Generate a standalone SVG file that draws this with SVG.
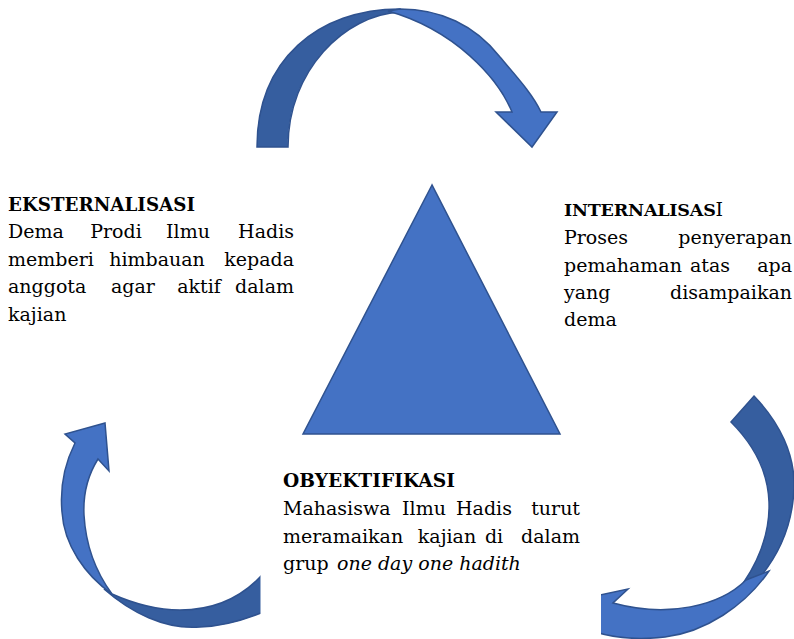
<svg xmlns="http://www.w3.org/2000/svg" width="794" height="639" viewBox="0 0 794 639">
<style>
.light{fill:#4472C4;stroke:#2F528F;stroke-width:1.5;stroke-linejoin:miter}
.dark{fill:#365E9F;stroke:#2F528F;stroke-width:1.5}
text{font-family:"DejaVu Serif","Liberation Serif",serif;font-size:19px;fill:#000}
.t{font-weight:bold}
.m{text-anchor:middle}
.e{text-anchor:end}
.i{font-style:italic}
</style>
<rect width="794" height="639" fill="#fff"/>
<g id="connectors">
<g id="arrow-top">
<path class="dark" d="M257,147 C257,60 318,9 400,9 L400,12 C345,15 288,70 288,147 Z"/>
<path class="light" d="M400,9 C440,9 475,25 500,57 C515,75 532,93 541,112 L557,112 L532,147 L496,112 L512,112 C498,78 455,30 388,11 Z"/>
</g>
<g id="arrow-right">
<path class="dark" d="M754,396 C780,423 795,455 794,487 C793,522 782,553 755,583 L744,582 C760,558 770,530 769,502 C768,472 755,446 731,422 Z"/>
<path class="light" d="M746,580 C720,606 668,618 613,603 L628,589 L595,596 L595,632 C615,638 640,640 665,637 C705,632 745,606 769,571 Z"/>
</g>
<g id="arrow-left">
<path class="dark" d="M104,589 C130,612 165,630 200,627 C225,626 245,620 268,610 L268,568 C245,597 215,610 180,610 C155,610 130,602 112,594 Z"/>
<path class="light" d="M98,459 L109,471 L105,423 L65,434 L75,443 C64,465 60,490 62,512 C64,545 85,575 112,594 C98,575 86,550 84,515 C83,495 88,475 98,459 Z"/>
</g>
</g>
<g id="triangle">
<polygon class="light" points="432,185 303,434 560,434"/>
</g>
<rect x="260.5" y="455" width="340.5" height="184" fill="#fff"/>
<g id="eksternalisasi">
<text class="t" x="8" y="211" textLength="187" lengthAdjust="spacingAndGlyphs">EKSTERNALISASI</text>
<text y="238"><tspan x="8">Dema</tspan><tspan class="m" x="116">Prodi</tspan><tspan class="m" x="188">Ilmu</tspan><tspan class="e" x="294">Hadis</tspan></text>
<text y="266"><tspan x="8">memberi</tspan><tspan class="m" x="157">himbauan</tspan><tspan class="e" x="294">kepada</tspan></text>
<text y="293"><tspan x="8">anggota</tspan><tspan class="m" x="133">agar</tspan><tspan class="m" x="199">aktif</tspan><tspan class="e" x="294">dalam</tspan></text>
<text x="8" y="321">kajian</text>
</g>
<g id="internalisasi">
<text x="564" y="216"><tspan class="t" style="font-size:17.5px;letter-spacing:-0.2px">INTERNALISAS</tspan><tspan>I</tspan></text>
<text y="244"><tspan x="564">Proses</tspan><tspan class="e" x="792">penyerapan</tspan></text>
<text y="272"><tspan x="564">pemahaman</tspan><tspan class="m" x="710">atas</tspan><tspan class="e" x="792">apa</tspan></text>
<text y="299"><tspan x="564">yang</tspan><tspan class="e" x="792">disampaikan</tspan></text>
<text x="564" y="326">dema</text>
</g>
<g id="obyektifikasi">
<text class="t" x="283" y="487" textLength="172" lengthAdjust="spacingAndGlyphs">OBYEKTIFIKASI</text>
<text y="515"><tspan x="283">Mahasiswa</tspan><tspan class="m" x="424">Ilmu</tspan><tspan class="m" x="484">Hadis</tspan><tspan class="e" x="580">turut</tspan></text>
<text y="543"><tspan x="283">meramaikan</tspan><tspan class="m" x="447">kajian</tspan><tspan class="m" x="494">di</tspan><tspan class="e" x="580">dalam</tspan></text>
<text y="570"><tspan x="283">grup</tspan><tspan class="i" x="337">one day one hadith</tspan></text>
</g>
</svg>
